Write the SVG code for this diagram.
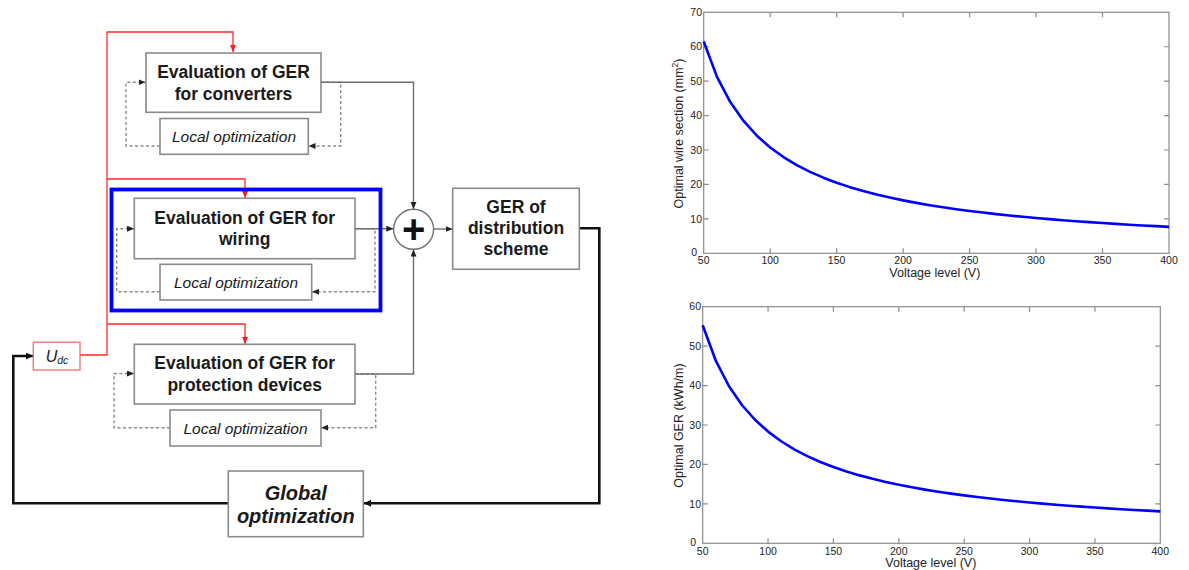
<svg xmlns="http://www.w3.org/2000/svg" width="1189" height="570" viewBox="0 0 1189 570">
<defs>
<style>
.box{fill:#fff;stroke:#8a8a8a;stroke-width:1.6}
.t{font-family:"Liberation Sans",Arial,sans-serif;font-weight:bold;font-size:17.5px;fill:#1a1a1a;text-anchor:middle}
.lo{font-family:"Liberation Sans",Arial,sans-serif;font-style:italic;font-size:15.5px;fill:#1a1a1a;text-anchor:middle}
.gl{font-family:"Liberation Sans",Arial,sans-serif;font-style:italic;font-weight:bold;font-size:20px;fill:#1a1a1a;text-anchor:middle}
.g{fill:none;stroke:#6e6e6e;stroke-width:1.4}
.d{fill:none;stroke:#8a8a8a;stroke-width:1.4;stroke-dasharray:3,2.5}
.r{fill:none;stroke:#ff2a2a;stroke-width:1.3}
.k{fill:none;stroke:#111;stroke-width:2.6}
.ax{fill:none;stroke:#8c8c8c;stroke-width:1.2}
.tk{font-family:"Liberation Sans",Arial,sans-serif;font-size:10.5px;fill:#222}
.al{font-family:"Liberation Sans",Arial,sans-serif;font-size:12.5px;fill:#222;text-anchor:middle}
.cv{fill:none;stroke:#0000ff;stroke-width:2.6;stroke-linejoin:round}
</style>
<marker id="ag" markerUnits="userSpaceOnUse" markerWidth="8" markerHeight="8" refX="7" refY="3" orient="auto"><path d="M0,0 L7,3 L0,6 z" fill="#222"/></marker>
<marker id="ar" markerUnits="userSpaceOnUse" markerWidth="8" markerHeight="8" refX="7" refY="3" orient="auto"><path d="M0,0 L7,3 L0,6 z" fill="#ff1a1a"/></marker>
<marker id="ak" markerUnits="userSpaceOnUse" markerWidth="9" markerHeight="9" refX="7" refY="3.5" orient="auto"><path d="M0,0 L7,3.5 L0,7 z" fill="#111"/></marker>
</defs>
<rect width="1189" height="570" fill="#fff"/>

<g id="connectors">
<path class="r" d="M80,355 H107 V32 H233 V52" marker-end="url(#ar)"/>
<path class="r" d="M107,179 H245 V198" marker-end="url(#ar)"/>
<path class="r" d="M107,324 H245 V344" marker-end="url(#ar)"/>
<path class="d" d="M160,146 H126 V82.3 H145.5" marker-end="url(#ag)"/>
<path class="d" d="M321,82.3 H340.7 V146 H308.5" marker-end="url(#ag)"/>
<path class="d" d="M160,291.7 H116.7 V228.7 H134" marker-end="url(#ag)"/>
<path class="d" d="M355,228.7 H375 V291.7 H312" marker-end="url(#ag)"/>
<path class="d" d="M170,427.7 H114 V373.5 H134" marker-end="url(#ag)"/>
<path class="d" d="M355,374 H375.7 V427.7 H321.3" marker-end="url(#ag)"/>
<path class="g" d="M321,82.3 H413.5 V209" marker-end="url(#ag)"/>
<path class="g" d="M355,228.7 H393.3" marker-end="url(#ag)"/>
<path class="g" d="M355,374 H413.5 V249.6" marker-end="url(#ag)"/>
<path class="g" d="M433.7,229 H452.5" marker-end="url(#ag)"/>
<path class="k" d="M579.3,228.3 H599.3 V503.3 H364" marker-end="url(#ak)"/>
<path class="k" d="M228.3,503.3 H13.3 V356 H33" marker-end="url(#ak)"/>
</g>

<g id="highlight">
<rect x="111.5" y="189.5" width="269" height="121" fill="none" stroke="#0000ff" stroke-width="3.8"/>
</g>

<g id="conv">
<rect class="box" x="146" y="53" width="175" height="59.3"/>
<text class="t" x="233.5" y="78.3">Evaluation of GER</text>
<text class="t" x="233.5" y="100">for converters</text>
</g>
<g id="local1">
<rect class="box" x="160" y="118.5" width="148.3" height="35.8"/>
<text class="lo" x="234" y="142.3">Local optimization</text>
</g>

<g id="wiring">
<rect class="box" x="134.3" y="198.3" width="220.7" height="60.4"/>
<text class="t" x="244.7" y="224">Evaluation of GER for</text>
<text class="t" x="244.7" y="245.3">wiring</text>
</g>
<g id="local2">
<rect class="box" x="160" y="264.3" width="151.7" height="35.7"/>
<text class="lo" x="236" y="287.8">Local optimization</text>
</g>

<g id="protection">
<rect class="box" x="134.3" y="344.3" width="220.7" height="59.7"/>
<text class="t" x="244.7" y="369">Evaluation of GER for</text>
<text class="t" x="244.7" y="390.7">protection devices</text>
</g>
<g id="local3">
<rect class="box" x="170" y="410" width="151" height="36"/>
<text class="lo" x="245.5" y="433.5">Local optimization</text>
</g>

<g id="sum">
<circle cx="413.6" cy="229.3" r="20" fill="#fff" stroke="#6e6e6e" stroke-width="1.4"/>
<text x="413.6" y="243.3" font-family="Liberation Sans, Arial, sans-serif" font-weight="bold" font-size="40" fill="#111" text-anchor="middle">+</text>
</g>

<g id="ger">
<rect class="box" x="452.7" y="188.3" width="126.6" height="81"/>
<text class="t" x="516" y="213.3">GER of</text>
<text class="t" x="516" y="234.4">distribution</text>
<text class="t" x="516" y="255.2">scheme</text>
</g>

<g id="global">
<rect class="box" x="228.3" y="471" width="135" height="65.7"/>
<text class="gl" x="295.8" y="500">Global</text>
<text class="gl" x="295.8" y="523.3">optimization</text>
</g>

<g id="udc">
<rect x="33.3" y="342.3" width="46.7" height="27.7" fill="#fff" stroke="#f07878" stroke-width="1.4"/>
<text x="57" y="361.7" font-family="Liberation Sans, Arial, sans-serif" font-style="italic" font-size="16" fill="#1a1a1a" text-anchor="middle">U<tspan font-size="10.5" dy="2.6">dc</tspan></text>
</g>

<g id="chart-top">
<rect class="ax" x="703.7" y="12.3" width="465.3" height="241"/>
<path class="ax" d="M770.17,253.3v-5M836.64,253.3v-5M903.11,253.3v-5M969.59,253.3v-5M1036.06,253.3v-5M1102.53,253.3v-5
M770.17,12.3v5M836.64,12.3v5M903.11,12.3v5M969.59,12.3v5M1036.06,12.3v5M1102.53,12.3v5
M703.7,218.87h5M703.7,184.44h5M703.7,150.01h5M703.7,115.58h5M703.7,81.16h5M703.7,46.73h5
M1169,218.87h-5M1169,184.44h-5M1169,150.01h-5M1169,115.58h-5M1169,81.16h-5M1169,46.73h-5"/>
<g class="tk" text-anchor="end">
<text x="697" y="255.5">0</text>
<text x="702" y="222.6">10</text>
<text x="702" y="188.1">20</text>
<text x="702" y="153.7">30</text>
<text x="702" y="119.3">40</text>
<text x="702" y="84.9">50</text>
<text x="702" y="50.4">60</text>
<text x="702" y="16">70</text>
</g>
<g class="tk" text-anchor="middle">
<text x="703.7" y="264.3">50</text>
<text x="770.17" y="264.3">100</text>
<text x="836.64" y="264.3">150</text>
<text x="903.11" y="264.3">200</text>
<text x="969.59" y="264.3">250</text>
<text x="1036.06" y="264.3">300</text>
<text x="1102.53" y="264.3">350</text>
<text x="1169" y="264.3">400</text>
</g>
<text class="al" x="934.8" y="276.8">Voltage level (V)</text>
<text class="al" transform="translate(682.8,133.5) rotate(-90)">Optimal wire section (mm<tspan font-size="8.5" dy="-5">2</tspan><tspan dy="5">)</tspan></text>
<polyline class="cv" points="703.7,41.56 717.0,76.85 730.29,102.06 743.58,120.96 756.88,135.66 770.17,147.43 783.47,157.05 796.76,165.08 810.05,171.86 823.35,177.68 836.64,182.72 849.94,187.13 863.23,191.02 876.53,194.48 889.82,197.58 903.11,200.37 916.41,202.89 929.7,205.18 943.0,207.27 956.29,209.19 969.59,210.95 982.88,212.58 996.17,214.09 1009.47,215.49 1022.76,216.79 1036.06,218.01 1049.35,219.15 1062.65,220.22 1075.94,221.22 1089.23,222.16 1102.53,223.05 1115.82,223.89 1129.12,224.69 1142.41,225.44 1155.71,226.15 1169.0,226.83"/>
</g>

<g id="chart-bottom">
<rect class="ax" x="702.7" y="306.7" width="457.6" height="236.6"/>
<path class="ax" d="M768.07,543.3v-5M833.44,543.3v-5M898.81,543.3v-5M964.19,543.3v-5M1029.56,543.3v-5M1094.93,543.3v-5
M768.07,306.7v5M833.44,306.7v5M898.81,306.7v5M964.19,306.7v5M1029.56,306.7v5M1094.93,306.7v5
M702.7,503.87h5M702.7,464.43h5M702.7,425h5M702.7,385.57h5M702.7,346.13h5
M1160.3,503.87h-5M1160.3,464.43h-5M1160.3,425h-5M1160.3,385.57h-5M1160.3,346.13h-5"/>
<g class="tk" text-anchor="end">
<text x="696" y="545.5">0</text>
<text x="701" y="507.6">10</text>
<text x="701" y="468.1">20</text>
<text x="701" y="428.7">30</text>
<text x="701" y="389.3">40</text>
<text x="701" y="349.8">50</text>
<text x="701" y="310.4">60</text>
</g>
<g class="tk" text-anchor="middle">
<text x="702.7" y="555">50</text>
<text x="768.07" y="555">100</text>
<text x="833.44" y="555">150</text>
<text x="898.81" y="555">200</text>
<text x="964.19" y="555">250</text>
<text x="1029.56" y="555">300</text>
<text x="1094.93" y="555">350</text>
<text x="1160.3" y="555">400</text>
</g>
<text class="al" x="930.8" y="566.5">Voltage level (V)</text>
<text class="al" transform="translate(682.8,425.5) rotate(-90)">Optimal GER (kWh/m)</text>
<polyline class="cv" points="702.7,325.24 715.77,360.68 728.85,386.0 741.92,405.0 755.0,419.76 768.07,431.58 781.15,441.25 794.22,449.31 807.29,456.13 820.37,461.97 833.44,467.04 846.52,471.47 859.59,475.38 872.67,478.85 885.74,481.96 898.81,484.76 911.89,487.29 924.96,489.6 938.04,491.7 951.11,493.62 964.19,495.4 977.26,497.03 990.33,498.55 1003.41,499.95 1016.48,501.26 1029.56,502.49 1042.63,503.63 1055.71,504.7 1068.78,505.71 1081.85,506.66 1094.93,507.55 1108.0,508.39 1121.08,509.19 1134.15,509.95 1147.23,510.67 1160.3,511.35"/>
</g>
</svg>
